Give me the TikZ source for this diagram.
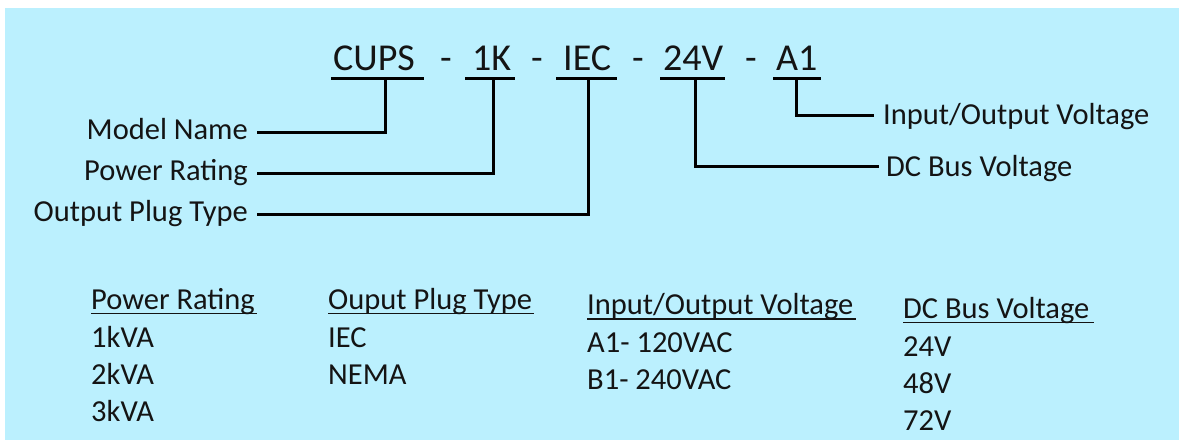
\documentclass[tikz,border=0pt]{standalone}
\usepackage{fontspec}
\setmainfont{Carlito}
\definecolor{bgcyan}{RGB}{187,240,254}
\definecolor{inkc}{RGB}{20,20,20}
\begin{document}
\begin{tikzpicture}[x=1pt,y=-1pt,
  code/.style={inner sep=0pt,anchor=base west,text=inkc,font=\fontsize{38}{44}\selectfont},
  lbl/.style={inner sep=0pt,text=inkc,font=\fontsize{30.5}{36}\selectfont},
  conn/.style={line width=3pt,draw=black},
  uline/.style={line width=3pt,draw=black},
  hline/.style={line width=1.8pt,draw=inkc}]
\useasboundingbox (0,0) rectangle (1179,440);
\fill[bgcyan] (5,8) rectangle (1179,440);
% code line
\node[code] (cups) at (333,70) {CUPS};
\node[code] (d1) at (440,70) {-};
\node[code] (onek) at (472,70) {1K};
\node[code] (d2) at (531,70) {-};
\node[code] (iec) at (563,70) {IEC};
\node[code] (d3) at (632,70) {-};
\node[code] (v24) at (663,70) {24V};
\node[code] (d4) at (745,70) {-};
\node[code] (aone) at (776,70) {A1};
% underlines
\draw[uline] (331,78) -- (424,78);
\draw[uline] (465,78) -- (515,78);
\draw[uline] (556,78) -- (617,78);
\draw[uline] (660,78) -- (725,78);
\draw[uline] (773,78) -- (821,78);
\coordinate (cupsU) at (385,78);
\coordinate (onekU) at (493,78);
\coordinate (iecU) at (588,78);
\coordinate (v24U) at (695,78);
\coordinate (aoneU) at (796,78);
% left labels
\node[lbl,anchor=base east] (mn) at (248,139) {Model Name};
\node[lbl,anchor=base east] (pr) at (248,180) {Power Rating};
\node[lbl,anchor=base east] (opt) at (248,221) {Output Plug Type};
\coordinate (mnS) at (257,132);
\coordinate (prS) at (257,173);
\coordinate (optS) at (257,214);
\draw[conn] (mnS) -| (cupsU);
\draw[conn] (prS) -| (onekU);
\draw[conn] (optS) -| (iecU);
% right labels
\node[lbl,anchor=base west] (io) at (883,124) {Input/Output Voltage};
\node[lbl,anchor=base west] (dc) at (886,176) {DC Bus Voltage};
\coordinate (ioE) at (874,115);
\coordinate (dcE) at (879,166);
\draw[conn] (aoneU) |- (ioE);
\draw[conn] (v24U) |- (dcE);
% table
\node[lbl,anchor=base west] (h1) at (91,309) {Power Rating};
\draw[hline] (91,313.5) -- (257,313.5);
\node[lbl,anchor=base west] (r1a) at (91,347) {1kVA};
\node[lbl,anchor=base west] (r1b) at (91,384) {2kVA};
\node[lbl,anchor=base west] (r1c) at (91,421) {3kVA};
\node[lbl,anchor=base west] (h2) at (328,309) {Ouput Plug Type};
\draw[hline] (328,313.5) -- (534,313.5);
\node[lbl,anchor=base west] (r2a) at (328,347) {IEC};
\node[lbl,anchor=base west] (r2b) at (328,384) {NEMA};
\node[lbl,anchor=base west] (h3) at (587,314) {Input/Output Voltage};
\draw[hline] (587,319) -- (856,319);
\node[lbl,anchor=base west] (r3a) at (587,352) {A1- 120VAC};
\node[lbl,anchor=base west] (r3b) at (587,389) {B1- 240VAC};
\node[lbl,anchor=base west] (h4) at (903,318) {DC Bus Voltage};
\draw[hline] (903,322.5) -- (1094,322.5);
\node[lbl,anchor=base west] (r4a) at (903,356) {24V};
\node[lbl,anchor=base west] (r4b) at (903,393) {48V};
\node[lbl,anchor=base west] (r4c) at (903,430) {72V};
\end{tikzpicture}
\end{document}
